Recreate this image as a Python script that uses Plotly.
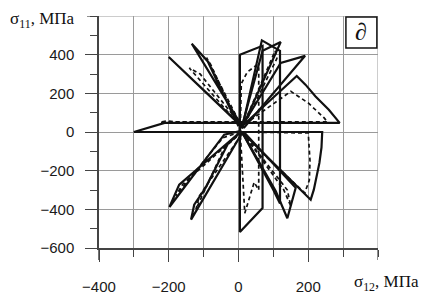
import plotly.graph_objects as go

# ---- data: stress trajectories (sigma12, sigma11), MPa ----
solid_loops = {
    "H_left":   ([10, -300, -212, 10], [0, 0, 47, 47]),
    "S_upright": ([10, 290, 259, 221, 192, 167, 10], [47, 47, 115, 184, 245, 290, 30]),
    "S_downright": ([10, 240, 238, 232, 216, 207, 10], [0, 0, -80, -160, -298, -350, 0]),
    "UL1": ([15, -200, -190, 5], [20, 388, 372, 35]),
    "UL2": ([10, -134, -88, 0], [30, 457, 365, 30]),
    "UR1": ([15, 191, 121, 10], [20, 394, 357, 30]),
    "B1":  ([4, 4, 69, 69, 4, 4], [0, 400, 446, -393, -517, 0]),
    "T1":  ([10, 67, 119, 119, 100, 10], [20, 474, 420, -370, -300, 0]),
    "T2":  ([10, 121, 69, 10], [20, 465, 420, 30]),
    "LL1": ([5, -41, -198, -170, 5], [5, -14, -388, -272, 0]),
    "LL2": ([10, -30, -95, -127, -136, 10], [5, -60, -290, -376, -453, -5]),
    "LR1": ([10, 107, 140, 164, 15], [0, -307, -446, -289, 0]),
}
dashed_loops = {
    "D1":   ([10, -225, -205, -180, 255, 245, 200, 150, 10], [50, 50, 58, 52, 52, 74, 150, 210, 30]),
    "D2":   ([10, 200, 205, 203, 190, 10], [0, -5, -150, -250, -315, -10]),
    "DUL1": ([10, -141, -110, 5], [20, 331, 300, 40]),
    "DUL2": ([10, -92, -80, 0], [25, 384, 350, 40]),
    "DB":   ([5, 8, 25, 55, 58, 58, 45, 18, 5], [0, 250, 310, 350, 330, -300, -260, -420, 0]),
    "DT":   ([10, 105, 110, 15], [20, 420, 380, 30]),
    "DLL1": ([5, -45, -180, -160, 5], [0, -30, -330, -270, -5]),
    "DLL2": ([10, -40, -122, -112, 10], [0, -80, -400, -330, -10]),
    "DLR1": ([10, 140, 150, 130, 10], [0, -300, -384, -300, 0]),
}

x_tickvals = [-400, -200, 0, 200]
y_tickvals = [-600, -400, -200, 0, 200, 400]

fig = go.Figure()
for name, (xs, ys) in solid_loops.items():
    fig.add_trace(go.Scatter(x=xs, y=ys, mode="lines", name=name,
                             line=dict(color="#111111", width=2.2)))
for name, (xs, ys) in dashed_loops.items():
    fig.add_trace(go.Scatter(x=xs, y=ys, mode="lines", name=name,
                             line=dict(color="#111111", width=1.7, dash="4px,3px")))

axis_font = dict(family="Liberation Sans, Arial, sans-serif", size=15, color="#1a1a1a")

# page body has an 8px margin, so the figure is drawn 8px in from the top-left
fig.update_layout(
    width=423, height=290,
    margin=dict(l=91, r=53, t=8, b=50),
    paper_bgcolor="white", plot_bgcolor="white",
    showlegend=False,
    xaxis=dict(range=[-400, 400], tickmode="array", tickvals=x_tickvals,
               automargin=False,
               showgrid=True, gridcolor="#9a9a9a", gridwidth=1, zeroline=False,
               showline=True, linecolor="#444444", linewidth=1.5,
               ticks="outside", ticklen=12, tickcolor="#444444", tickwidth=1.2,
               ticklabelstandoff=12, tickfont=axis_font,
               minor=dict(dtick=100, tick0=0, ticks="outside", ticklen=7, tickcolor="#444444",
                          showgrid=True, gridcolor="#9a9a9a", gridwidth=1)),
    yaxis=dict(range=[-600, 600], tickmode="array", tickvals=y_tickvals,
               automargin=False,
               showgrid=True, gridcolor="#9a9a9a", gridwidth=1, zeroline=False,
               showline=True, linecolor="#444444", linewidth=1.5,
               ticks="outside", ticklen=12, tickcolor="#444444", tickwidth=1.2,
               ticklabelstandoff=8, tickfont=axis_font,
               minor=dict(dtick=100, tick0=0, ticks="outside", ticklen=7, tickcolor="#444444",
                          showgrid=False)),
)

fig.update_layout(shapes=[
    # grid edges at x=400 and y=600
    dict(type="line", xref="x", yref="paper", x0=400, x1=400, y0=0, y1=1,
         line=dict(color="#9a9a9a", width=1)),
    dict(type="line", xref="paper", yref="y", x0=0, x1=1, y0=600, y1=600,
         line=dict(color="#9a9a9a", width=1)),
    # major ticks at x=400 and y=600 (unlabelled)
    dict(type="line", xref="x", yref="paper", x0=400, x1=400, y0=0, y1=-0.052,
         line=dict(color="#444444", width=1.2)),
    dict(type="line", xref="paper", yref="y", x0=-0.043, x1=0, y0=600, y1=600,
         line=dict(color="#444444", width=1.2)),
    # left axis extension below the plot
    dict(type="line", xref="paper", yref="paper", x0=0, x1=0, y0=0, y1=-0.052,
         line=dict(color="#444444", width=1.5)),
    dict(type="rect", xref="paper", yref="paper", x0=0.885, x1=0.996, y0=0.862, y1=0.996,
         fillcolor="white", line=dict(color="#111111", width=1.5), layer="above"),
])

serif = "Liberation Serif, Times New Roman, serif"
fig.add_annotation(text="σ<sub>11</sub>, МПа", xref="paper", yref="paper",
                   x=-0.079, y=0.983, xanchor="right", yanchor="middle", showarrow=False,
                   font=dict(family=serif, size=17, color="#111111"))
fig.add_annotation(text="σ<sub>12</sub>, МПа", xref="paper", yref="paper",
                   x=0.907, y=-0.151, xanchor="left", yanchor="middle", showarrow=False,
                   font=dict(family=serif, size=17, color="#111111"))
fig.add_annotation(text="<i>∂</i>", xref="paper", yref="paper",
                   x=0.94, y=0.929, xanchor="center", yanchor="middle", showarrow=False,
                   font=dict(family=serif, size=24, color="#111111"))

fig.write_html("out.html")
